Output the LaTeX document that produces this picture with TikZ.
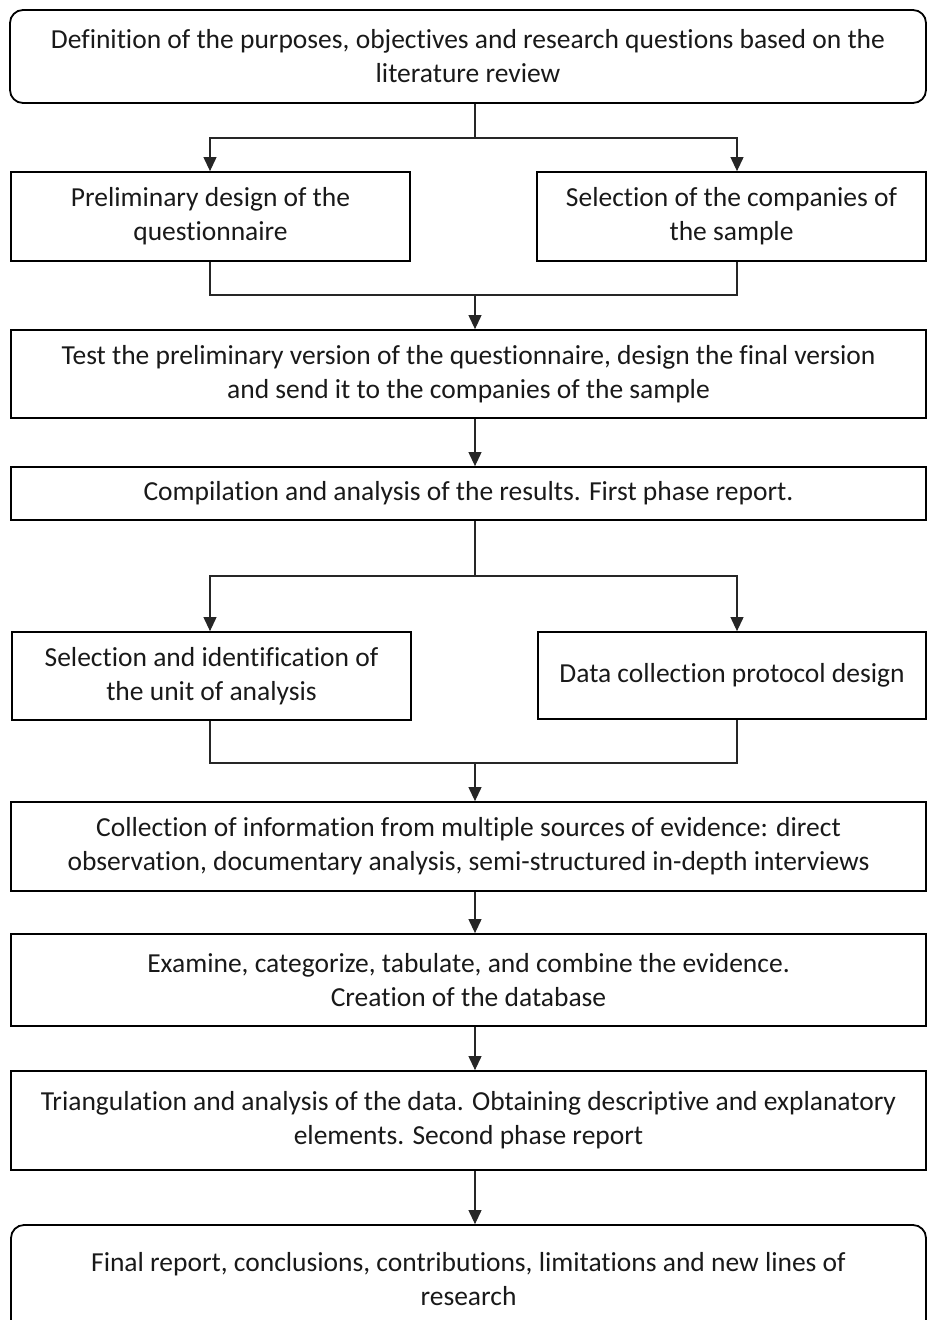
\documentclass[tikz,border=0pt]{standalone}
\usepackage{fontspec}
\setmainfont{Carlito}[Ligatures=CommonOff]
\usetikzlibrary{arrows.meta}
\begin{document}
\begin{tikzpicture}[x=1pt,y=-1pt,
  box/.style={draw=black, line width=1.8pt, rectangle, inner sep=0pt, align=center,
    font=\fontsize{27.5}{34}\selectfont, text=black!90},
  rbox/.style={box, rounded corners=13pt},
  conn/.style={draw=black!85, line width=1.1pt},
  arr/.style={conn, -{Triangle[length=14pt,width=13pt]}}]
\useasboundingbox (0,0) rectangle (927,1320);
% helper coordinates for columns
\coordinate (cL) at (210,0);
\coordinate (cM) at (475,0);
\coordinate (cR) at (737,0);
% boxes
\node[rbox, minimum width=916pt, minimum height=93pt] (b1) at (468,56.5)
  {Definition of the purposes, objectives and research questions based on the\\literature review};
\node[box, minimum width=399pt, minimum height=89pt] (b2a) at (210.5,216.5)
  {Preliminary design of the\\questionnaire};
\node[box, minimum width=389pt, minimum height=89pt] (b2b) at (731.5,216.5)
  {Selection of the companies of\\the sample};
\node[box, minimum width=915pt, minimum height=88pt] (b3) at (468.5,374)
  {Test the preliminary version of the questionnaire, design the final version\\and send it to the companies of the sample};
\node[box, minimum width=915pt, minimum height=53pt] (b4) at (468.5,493.5)
  {Compilation and analysis of the results. First phase report.};
\node[box, minimum width=399pt, minimum height=88pt] (b5a) at (211.5,676)
  {Selection and identification of\\the unit of analysis};
\node[box, minimum width=388pt, minimum height=87pt] (b5b) at (732,675.5)
  {Data collection protocol design};
\node[box, minimum width=915pt, minimum height=89pt] (b6) at (468.5,846.5)
  {Collection of information from multiple sources of evidence: direct\\observation, documentary analysis, semi-structured in-depth interviews};
\node[box, minimum width=915pt, minimum height=92pt] (b7) at (468.5,980)
  {Examine, categorize, tabulate, and combine the evidence.\\Creation of the database};
\node[box, minimum width=915pt, minimum height=99pt] (b8) at (468.5,1120.5)
  {Triangulation and analysis of the data. Obtaining descriptive and explanatory\\elements. Second phase report};
\node[rbox, minimum width=915pt, minimum height=108pt] (b9) at (468.5,1279)
  {Final report, conclusions, contributions, limitations and new lines of\\research};
% split 1
\coordinate (s1) at (475,138);
\draw[conn] (b1.south -| cM) -- (s1);
\draw[arr] (s1) -| (b2a.north -| cL);
\draw[arr] (s1) -| (b2b.north -| cR);
% merge 1
\coordinate (m1) at (475,295);
\draw[conn] (b2a.south -| cL) |- (m1) -| (b2b.south -| cR);
\draw[arr] (m1) -- (b3.north -| cM);
% 3 -> 4
\draw[arr] (b3.south -| cM) -- (b4.north -| cM);
% split 2
\coordinate (s2) at (475,576);
\draw[conn] (b4.south -| cM) -- (s2);
\draw[arr] (s2) -| (b5a.north -| cL);
\draw[arr] (s2) -| (b5b.north -| cR);
% merge 2
\coordinate (m2) at (475,763);
\draw[conn] (b5a.south -| cL) |- (m2) -| (b5b.south -| cR);
\draw[arr] (m2) -- (b6.north -| cM);
% chain
\draw[arr] (b6.south -| cM) -- (b7.north -| cM);
\draw[arr] (b7.south -| cM) -- (b8.north -| cM);
\draw[arr] (b8.south -| cM) -- (b9.north -| cM);
\end{tikzpicture}
\end{document}
